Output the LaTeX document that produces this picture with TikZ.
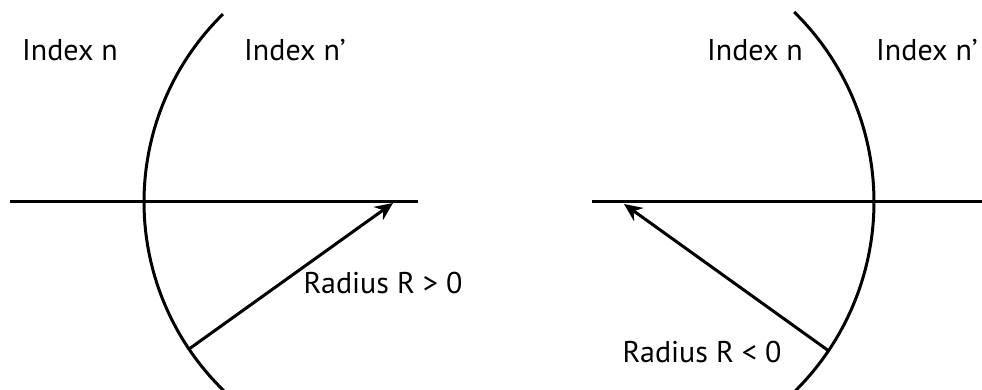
\documentclass[tikz,border=0pt]{standalone}
\usepackage{fontspec}
\setmainfont{PT Sans}
\usepackage{tikz}
\usetikzlibrary{arrows.meta,positioning,calc}
\definecolor{inkblack}{RGB}{0, 0, 0}

\begin{document}
\begin{tikzpicture}[x=0.5pt, y=0.5pt,
    every node/.style={font=\fontsize{15}{17}\selectfont, inner sep=0pt},
    surface/.style={draw=inkblack, line width=1.5pt},
    axisline/.style={draw=inkblack, line width=1.5pt},
    radiusarrow/.style={draw=inkblack, line width=1.5pt, -{Stealth[length=9pt, width=8pt]}}]
    \useasboundingbox (0,0) rectangle (982,390);

    % Convex surface (R > 0)
    \coordinate (cL) at (407,188);
    \draw[surface] ($(cL)+(134.4:263)$) arc[start angle=134.4, end angle=226, radius=263];
    \coordinate (axisLa) at (10,188);
    \coordinate (axisLb) at (418,188);
    \draw[axisline] (axisLa) -- (axisLb);
    \coordinate (tailL) at ($(cL)+(214:263)$);
    \coordinate (tipL) at (393,187);
    \draw[radiusarrow] (tailL) -- (tipL);
    \node (idxnL) at (70,340) {Index n};
    \node (idxnpL) at (295,340) {Index n’};
    \node (radL) at (383,107) {Radius R > 0};

    % Concave surface (R < 0)
    \coordinate (cR) at (608,188);
    \draw[surface] ($(cR)+(-45.6:266)$) arc[start angle=-45.6, end angle=45.6, radius=266];
    \coordinate (axisRa) at (592,188);
    \coordinate (axisRb) at (982,188);
    \draw[axisline] (axisRa) -- (axisRb);
    \coordinate (tailR) at ($(cR)+(-34:266)$);
    \coordinate (tipR) at (624,186);
    \draw[radiusarrow] (tailR) -- (tipR);
    \node (idxnR) at (755,340) {Index n};
    \node (idxnpR) at (927,340) {Index n’};
    \node (radR) at (702,38) {Radius R < 0};
\end{tikzpicture}
\end{document}
